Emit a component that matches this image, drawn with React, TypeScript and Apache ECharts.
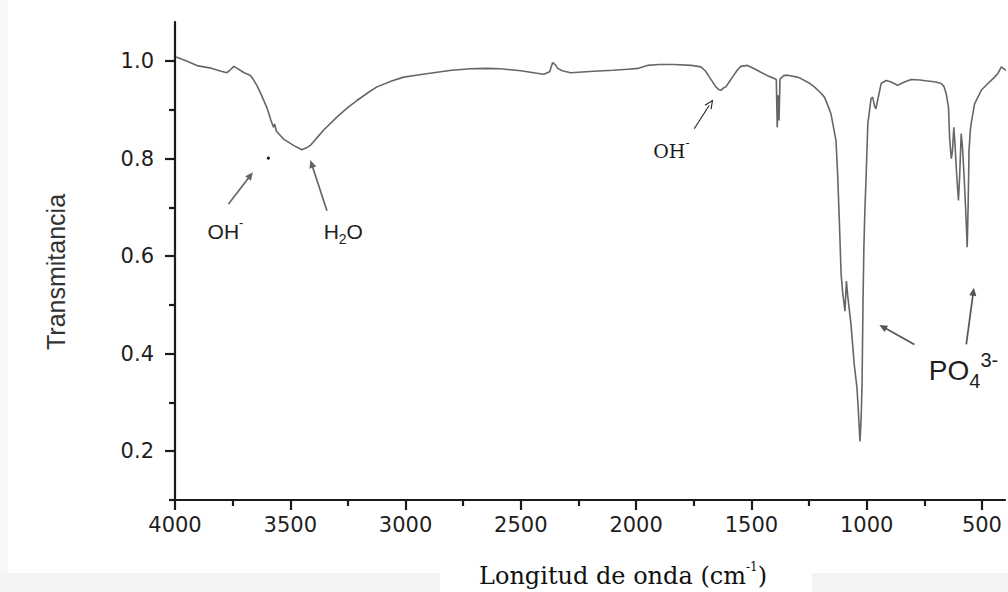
import React, { useEffect, useRef } from "react";
import * as echarts from "echarts";

// FTIR spectrum: wavenumber (cm-1) and transmittance
const wavenumbers = [
  3995, 3950, 3900, 3850, 3800, 3775, 3760, 3745, 3730, 3700,
  3674, 3660, 3645, 3625, 3602, 3585, 3573, 3568, 3560, 3529,
  3486, 3450, 3430, 3413, 3380, 3356, 3298, 3250, 3211, 3160,
  3124, 3060, 3008, 2940, 2863, 2800, 2718, 2650, 2588, 2500,
  2430, 2400, 2375, 2362, 2350, 2340, 2320, 2284, 2183, 2100,
  2038, 1990, 1951, 1900, 1834, 1760, 1719, 1700, 1682, 1654,
  1640, 1632, 1620, 1611, 1595, 1582, 1560, 1546, 1517, 1487,
  1459, 1430, 1401, 1392, 1388, 1384, 1380, 1376, 1360, 1343,
  1300, 1285, 1250, 1227, 1200, 1183, 1165, 1155, 1143, 1133,
  1126, 1118, 1111, 1104, 1094, 1088, 1082, 1068, 1054, 1042,
  1036, 1029, 1024, 1020, 1016, 1012, 1008, 1002, 995, 981,
  974, 966, 960, 953, 937, 916, 900, 880, 866, 850,
  836, 807, 770, 735, 700, 677, 665, 655, 645, 640,
  633, 628, 622, 617, 610, 602, 597, 590, 584, 577,
  570, 564, 560, 556, 550, 547, 532, 503, 474, 445,
  430, 416, 405, 396,
];

const transmittance = [
  1.008, 1.0, 0.99, 0.986, 0.979, 0.976, 0.982, 0.989, 0.985, 0.976,
  0.971, 0.962, 0.95, 0.93, 0.905, 0.88, 0.864, 0.871, 0.856, 0.84,
  0.827, 0.818, 0.822, 0.827, 0.845, 0.858, 0.885, 0.905, 0.919, 0.936,
  0.947, 0.959, 0.967, 0.972, 0.977, 0.981, 0.984, 0.985, 0.984, 0.98,
  0.975, 0.973, 0.978, 0.997, 0.992, 0.985, 0.98, 0.976, 0.979, 0.981,
  0.983, 0.985, 0.991, 0.993, 0.993, 0.991, 0.988, 0.98, 0.967, 0.947,
  0.941, 0.94, 0.945, 0.947, 0.958, 0.967, 0.982, 0.989, 0.991, 0.984,
  0.977, 0.97, 0.964, 0.962, 0.864, 0.93, 0.878, 0.963, 0.97, 0.971,
  0.967, 0.964, 0.955, 0.947, 0.935, 0.926, 0.905, 0.892, 0.862, 0.837,
  0.769, 0.666, 0.564, 0.525, 0.487, 0.549, 0.518, 0.46, 0.378, 0.33,
  0.282, 0.22, 0.268, 0.337, 0.501, 0.62, 0.69, 0.769, 0.871, 0.923,
  0.926, 0.908, 0.902, 0.918, 0.954, 0.96, 0.958, 0.954, 0.95, 0.954,
  0.957, 0.962, 0.961, 0.959, 0.957, 0.954, 0.948, 0.933, 0.905, 0.84,
  0.8, 0.815, 0.864, 0.83, 0.77, 0.714, 0.76, 0.851, 0.82, 0.76,
  0.69, 0.618, 0.7, 0.817, 0.86, 0.871, 0.912, 0.94, 0.954, 0.967,
  0.975, 0.988, 0.984, 0.981,
];

const xMajorTicks = [4000, 3500, 3000, 2500, 2000, 1500, 1000, 500];
const xMinorTicks = [3750, 3250, 2750, 2250, 1750, 1250, 750];
const yMajorTicks = [0.2, 0.4, 0.6, 0.8, 1.0];
const yMinorTicks = [0.1, 0.3, 0.5, 0.7, 0.9];

// Band assignments: label text and its anchor in data coordinates
const bandLabels = [
  { key: "ohStretch", text: "{m|OH}{p|-}", at: [3781, 0.651] },
  { key: "water", text: "{m|H}{b|2}{m|O}", at: [3270, 0.651] },
  { key: "ohBend", text: "{m|OH}{p|-}", at: [1847, 0.816] },
  { key: "phosphate", text: "{m|PO}{b|4}{p|3-}", at: [580, 0.366] },
];

// Arrows from label to band: [tail, head] in data coordinates
const bandArrows = [
  { key: "ohStretch", from: [3768, 0.707], to: [3662, 0.772] },
  { key: "water", from: [3341, 0.693], to: [3413, 0.797] },
  { key: "ohBend", from: [1748, 0.861], to: [1669, 0.919] },
  { key: "phosphate", from: [793, 0.419], to: [945, 0.459] },
  { key: "phosphate", from: [568, 0.419], to: [535, 0.535] },
];

const strayDot = [3595, 0.801];

const labelFonts: Record<string, any> = {
  ohStretch: { family: "Liberation Sans, Arial, sans-serif", size: 21, sub: 13, color: "#1e1e1e" },
  water: { family: "Liberation Sans, Arial, sans-serif", size: 21, sub: 14, color: "#1e1e1e" },
  ohBend: { family: "DejaVu Serif, serif", size: 19, sub: 12, color: "#1a1a1a" },
  phosphate: { family: "Liberation Sans, Arial, sans-serif", size: 28, sub: 20, color: "#1e1e1e" },
};

const arrowStyles: Record<string, any> = {
  ohStretch: { color: "#666", width: 1.7 },
  water: { color: "#666", width: 1.7 },
  ohBend: { color: "#222", width: 1.1 },
  phosphate: { color: "#555", width: 1.7 },
};

const axisColor = "#1a1a1a";
const tickFont = { fontFamily: "DejaVu Sans, sans-serif", fontSize: 21, color: "#1e1e1e" };

export default function App() {
  const ref = useRef<HTMLDivElement>(null);

  useEffect(() => {
    const chart = echarts.init(ref.current!, null, { renderer: "svg" });

    const spectrum = wavenumbers.map((w, i) => [w, transmittance[i]]);

    const baseX = {
      type: "value",
      inverse: true,
      min: 400,
      max: 4000,
      gridIndex: 0,
      position: "bottom",
      splitLine: { show: false },
    };
    const baseY = {
      type: "value",
      min: 0.1,
      max: 1.08,
      gridIndex: 0,
      position: "left",
      splitLine: { show: false },
    };

    chart.setOption({
      animation: false,
      backgroundColor: "#ffffff",
      grid: { left: 175, right: 3, top: 22, bottom: 92, outerBoundsMode: "none", containLabel: false },
      xAxis: [
        {
          ...baseX,
          name: "{t|Longitud de onda (cm}{s|-1}{t|)}",
          nameLocation: "middle",
          nameGap: 61,
          nameTextStyle: {
            padding: [0, 0, 0, 66],
            rich: {
              t: { fontFamily: "DejaVu Serif, serif", fontSize: 24, color: "#111", lineHeight: 30, verticalAlign: "middle" },
              s: { fontFamily: "DejaVu Serif, serif", fontSize: 12, color: "#111", verticalAlign: "top" },
            },
          },
          axisLine: { show: true, onZero: false, lineStyle: { color: axisColor, width: 2.2 } },
          axisTick: {
            show: true,
            inside: false,
            length: 10,
            customValues: xMajorTicks,
            lineStyle: { color: axisColor, width: 2.2 },
          },
          axisLabel: {
            show: true,
            margin: 14,
            customValues: xMajorTicks,
            formatter: (v: number) => String(v),
            ...tickFont,
          },
        },
        {
          ...baseX,
          axisLine: { show: false, onZero: false },
          axisTick: {
            show: true,
            inside: false,
            length: 6,
            customValues: xMinorTicks,
            lineStyle: { color: axisColor, width: 2.2 },
          },
          axisLabel: { show: false },
        },
      ],
      yAxis: [
        {
          ...baseY,
          name: "Transmitancia",
          nameLocation: "middle",
          nameGap: 107,
          nameRotate: 90,
          nameTextStyle: { fontFamily: "Liberation Sans, Arial, sans-serif", fontSize: 25, color: "#333", padding: [0, 22, 0, 0] },
          axisLine: { show: true, onZero: false, lineStyle: { color: axisColor, width: 2.2 } },
          axisTick: {
            show: true,
            inside: false,
            length: 10,
            customValues: yMajorTicks,
            lineStyle: { color: axisColor, width: 2.2 },
          },
          axisLabel: {
            show: true,
            margin: 21,
            customValues: yMajorTicks,
            formatter: (v: number) => v.toFixed(1),
            ...tickFont,
          },
        },
        {
          ...baseY,
          axisLine: { show: false, onZero: false },
          axisTick: {
            show: true,
            inside: false,
            length: 6,
            customValues: yMinorTicks,
            lineStyle: { color: axisColor, width: 2.2 },
          },
          axisLabel: { show: false },
        },
      ],
      series: [
        {
          type: "line",
          xAxisIndex: 0,
          yAxisIndex: 0,
          data: spectrum,
          showSymbol: false,
          symbol: "none",
          smooth: false,
          lineStyle: { color: "#666666", width: 1.6 },
          clip: true,
        },
      ],
    });

    const toPx = (p: number[]) =>
      chart.convertToPixel({ xAxisIndex: 0, yAxisIndex: 0 }, p) as number[];

    const elements: any[] = [];

    // faint scan band along the bottom edge
    elements.push(
      { type: "rect", z: 0, shape: { x: 0, y: 573, width: 440, height: 19 }, style: { fill: "#f3f3f3" } },
      { type: "rect", z: 0, shape: { x: 812, y: 573, width: 196, height: 19 }, style: { fill: "#f3f3f3" } },
      { type: "rect", z: 0, shape: { x: 0, y: 0, width: 8, height: 573 }, style: { fill: "#f8f8f8" } }
    );

    bandArrows.forEach((a) => {
      const [x1, y1] = toPx(a.from);
      const [x2, y2] = toPx(a.to);
      const st = arrowStyles[a.key];
      const dx = x2 - x1;
      const dy = y2 - y1;
      const len = Math.hypot(dx, dy) || 1;
      const ux = dx / len;
      const uy = dy / len;
      const hl = 8;
      const hw = 3.6;
      const bx = x2 - ux * hl;
      const by = y2 - uy * hl;
      elements.push({
        type: "line",
        z: 10,
        shape: { x1, y1, x2: bx + ux * 2, y2: by + uy * 2 },
        style: { stroke: st.color, lineWidth: st.width },
      });
      if (a.key === "ohBend") {
        elements.push({
          type: "polyline",
          z: 10,
          shape: {
            points: [
              [bx - uy * hw, by + ux * hw],
              [x2, y2],
              [bx + uy * hw, by - ux * hw],
            ],
          },
          style: { stroke: st.color, lineWidth: st.width, fill: "none" },
        });
      } else {
        elements.push({
          type: "polygon",
          z: 10,
          shape: {
            points: [
              [x2, y2],
              [bx - uy * hw, by + ux * hw],
              [bx + uy * hw, by - ux * hw],
            ],
          },
          style: { fill: st.color },
        });
      }
    });

    bandLabels.forEach((l) => {
      const [x, y] = toPx(l.at);
      const f = labelFonts[l.key];
      elements.push({
        type: "text",
        z: 10,
        x,
        y,
        style: {
          text: l.text,
          align: "center",
          verticalAlign: "middle",
          fill: f.color,
          rich: {
            m: { fontFamily: f.family, fontSize: f.size, fill: f.color, lineHeight: Math.round(f.size * 1.45), verticalAlign: "middle" },
            b: { fontFamily: f.family, fontSize: f.sub, fill: f.color, verticalAlign: "bottom" },
            p: { fontFamily: f.family, fontSize: f.sub, fill: f.color, verticalAlign: "top" },
          },
        },
      });
    });

    const [dx, dy] = toPx(strayDot);
    elements.push({ type: "circle", z: 10, shape: { cx: dx, cy: dy, r: 1.6 }, style: { fill: "#222" } });

    chart.setOption({ graphic: { elements } });

    return () => chart.dispose();
  }, []);

  return (
    <div
      ref={ref}
      style={{ position: "fixed", left: 0, top: 0, width: 1008, height: 592 }}
    />
  );
}
